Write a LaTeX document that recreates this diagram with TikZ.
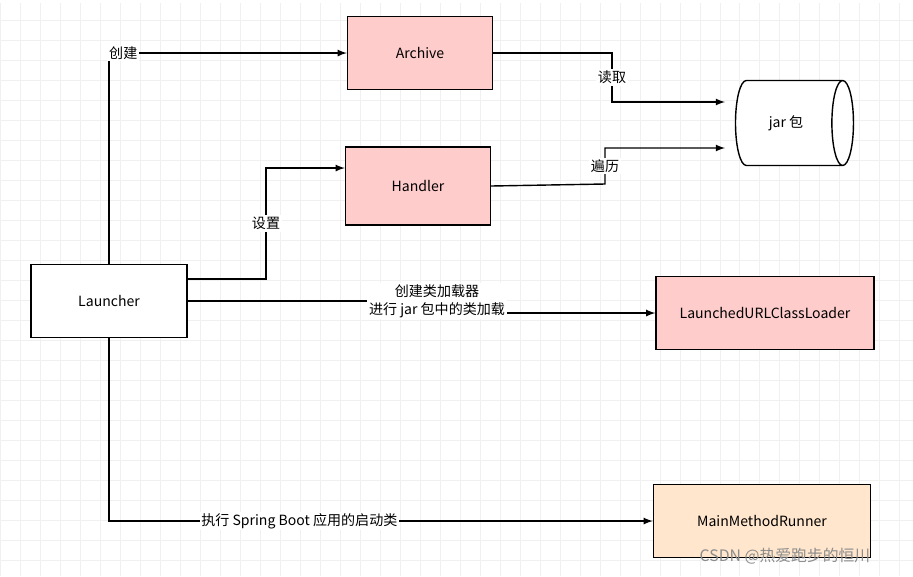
\documentclass[tikz,border=0pt]{standalone}
\usepackage{fontspec}
\setmainfont{Noto Sans CJK SC}
\usetikzlibrary{shapes.geometric}
\definecolor{boxpink}{HTML}{FFCCCC}
\definecolor{boxpeach}{HTML}{FFE6CC}
\begin{document}
\begin{tikzpicture}[
    x=0.02cm, y=-0.02cm,
    font=\fontsize{8}{10}\selectfont,
    box/.style={rectangle, draw=black, thick, fill=boxpink, minimum width=2.9cm, minimum height=1.46cm},
    arrow/.style={-latex, thick},
    lbl/.style={fill=white, inner sep=1pt, align=center}
]
    % Background grid
    \useasboundingbox (0,0) rectangle (913,576);
    \draw[black!6, step=0.4cm] (0,-576) grid (913,576);
    \fill[white] (0,0) rectangle (913,3);
    % Nodes
    \node[box, fill=white, minimum width=3.12cm] (launcher) at (109,301) {Launcher};
    \node[box] (archive) at (420,53) {Archive};
    \node[box, minimum height=1.56cm] (handler) at (418,186) {Handler};
    \node[cylinder, draw=black, thick, fill=white, minimum width=1.7cm, minimum height=2.36cm, aspect=0.8] (jar) at (786,123) {jar 包};
    \node[box, minimum width=4.36cm] (loader) at (765,313) {LaunchedURLClassLoader};
    \node[box, fill=boxpeach, minimum width=4.34cm] (runner) at (762,521) {MainMethodRunner};
    \coordinate (jarA) at (725,102);
    \coordinate (jarB) at (725,148);
    % Connectors
    \draw[arrow] (launcher.north) |- node[lbl, pos=0.53] {创建} (archive.west);
    \draw[arrow] (archive.east) -- (612,53) -- node[lbl, pos=0.5] {读取} (612,102) -- (jarA);
    \draw[arrow] (handler.east) -- (605,184) -- node[lbl, pos=0.5] {遍历} (605,148) -- (jarB);
    \draw[arrow] (launcher.east |- 0,279) -- (266,279) -- node[lbl, pos=0.5] {设置} (266,168) -- (handler.west |- 0,168);
    \draw[arrow] (launcher.east) -- (437,301) |- node[lbl, pos=0.0] {创建类加载器\\进行 jar 包中的类加载} (loader.west);
    \draw[arrow] (launcher.south) |- node[lbl, pos=0.675] {执行 Spring Boot 应用的启动类} (runner.west);
    % Watermark
    \node[text=black!45, font=\fontsize{9}{10}\selectfont] (mark) at (785,556) {CSDN @热爱跑步的恒川};
\end{tikzpicture}
\end{document}
